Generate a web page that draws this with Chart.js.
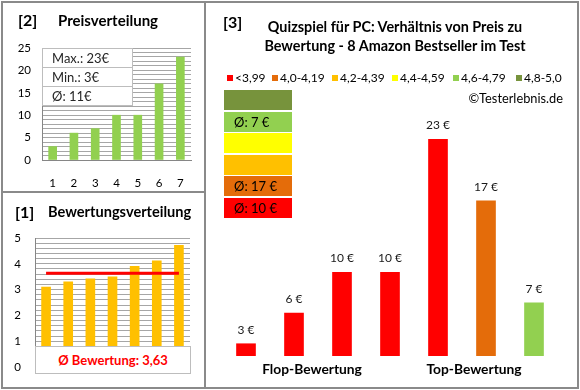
<!DOCTYPE html>
<html>
<head>
<meta charset="utf-8">
<script src="https://cdn.jsdelivr.net/npm/chart.js@4.4.1/dist/chart.umd.min.js"></script>
<style>
  body { margin: 0; background: #fff; font-family: Lato, "Open Sans", sans-serif; }
  #wrap { position: relative; width: 580px; height: 390px; overflow: hidden; background: #fff; }
  .ln { position: absolute; background: #8a8a8a; }
  canvas { position: absolute; }
  .t { position: absolute; white-space: nowrap; color: #000; height: 20px; line-height: 20px; }
  .b { font-weight: bold; }
  .sq { position: absolute; width: 6px; height: 6px; }
  .stats { position: absolute; left: 42px; top: 48px; width: 89px; height: 56px; background: #fff; border: 1px solid #bdbdbd; }
  .stats div { height: 18px; line-height: 18px; border-bottom: 1px solid #bdbdbd; padding-left: 9px; font-size: 13px; color: #262626; }
  .stats div:last-child { border-bottom: none; }
  .avg { position: absolute; left: 35px; top: 346px; width: 154px; height: 26px; background: #fff; border: 1px solid #bdbdbd;
         color: #ff0000; font-weight: bold; font-size: 13px; text-align: center; line-height: 27px; }
  .cls { position: absolute; left: 224px; width: 68px; height: 20px; line-height: 21px; font-size: 13px; color: #000; }
</style>
</head>
<body>
<div id="wrap">
  <canvas id="preis" width="204" height="191" style="left:0;top:0"></canvas>
  <canvas id="bew" width="204" height="196" style="left:0;top:192px"></canvas>
  <canvas id="main" width="374" height="388" style="left:204px;top:0"></canvas>

  <div class="ln" style="left:1px;top:1px;width:578px;height:2px"></div>
  <div class="ln" style="left:1px;top:387px;width:578px;height:2px"></div>
  <div class="ln" style="left:1px;top:1px;width:2px;height:388px"></div>
  <div class="ln" style="left:577px;top:1px;width:2px;height:388px"></div>
  <div class="ln" style="left:204px;top:1px;width:2px;height:388px"></div>
  <div class="ln" style="left:1px;top:191px;width:205px;height:2px"></div>

  <div class="t b" style="left:18px;top:10px;font-size:16px">[2]</div>
  <div class="t b" style="left:58px;top:10px;font-size:15px">Preisverteilung</div>
  <div class="stats"><div>Max.: 23€</div><div>Min.: 3€</div><div>Ø: 11€</div></div>

  <div class="t b" style="left:15px;top:202px;font-size:16px">[1]</div>
  <div class="t b" style="left:48px;top:202px;font-size:14.6px">Bewertungsverteilung</div>
  <div class="avg">Ø Bewertung: 3,63</div>

  <div class="t b" style="left:223px;top:12px;font-size:16px">[3]</div>
  <div class="t b" style="left:215px;top:17px;width:360px;text-align:center;font-size:14.4px;line-height:19px;height:40px">Quizspiel für PC: Verhältnis von Preis zu<br>Bewertung - 8 Amazon Bestseller im Test</div>
  <div id="legend"></div>
  <div class="t" style="left:400px;top:88px;width:163px;text-align:right;font-size:12.8px">©Testerlebnis.de</div>
  <div id="classes"></div>
  <div class="t b" style="left:232px;top:359px;width:160px;text-align:center;font-size:13.8px">Flop-Bewertung</div>
  <div class="t b" style="left:394px;top:359px;width:160px;text-align:center;font-size:13.8px">Top-Bewertung</div>
</div>
<script>
// Preisverteilung
const priceRanks = ['1', '2', '3', '4', '5', '6', '7'];
const priceValues = [3, 6, 7, 10, 10, 17, 23];

// Bewertungsverteilung
const ratingRanks = ['1', '2', '3', '4', '5', '6', '7'];
const ratingValues = [3.1, 3.3, 3.42, 3.5, 3.9, 4.12, 4.72];
const ratingAvg = 3.63;

// Verhaeltnis Preis / Bewertung
const classLabels = ['<3,99', '4,0-4,19', '4,2-4,39', '4,4-4,59', '4,6-4,79', '4,8-5,0'];
const classColors = ['#FF0000', '#E46C0A', '#FFC000', '#FFFF00', '#92D050', '#77933C'];
const classAvgPrice = [10, 17, null, null, 7, null];
const productPrices = [3, 6, 10, 10, 23, 17, 7];
const productClass = [0, 0, 0, 0, 0, 1, 4];

const tickFont = { family: 'Lato', size: 11.5 };
const gridGray = '#a6a6a6';
const axisGray = '#868686';

// legend + class boxes (html)
const legendX = [227, 272, 332, 392, 453, 516];
let lg = '';
classLabels.forEach((l, i) => {
    lg += `<div class="sq" style="left:${legendX[i]}px;top:75px;background:${classColors[i]}"></div>`;
    lg += `<div class="t" style="left:${legendX[i] + 8}px;top:68px;font-size:12px">${l}</div>`;
});
document.getElementById('legend').innerHTML = lg;

let cl = '';
for (let k = 0; k < classColors.length; k++) {
    const i = classColors.length - 1 - k;
    const txt = classAvgPrice[i] != null ? 'Ø: ' + classAvgPrice[i] + ' €' : '';
    cl += `<div class="cls" style="top:${90 + k * 21.6}px;background:${classColors[i]}"><span style="padding-left:10px">${txt}</span></div>`;
}
document.getElementById('classes').innerHTML = cl;

new Chart(document.getElementById('preis'), {
    type: 'bar',
    data: {
        labels: priceRanks,
        datasets: [{ data: priceValues, backgroundColor: '#92D050', barThickness: 8 }]
    },
    options: {
        responsive: false,
        animation: false,
        layout: { padding: { left: 0, right: 13, top: 48, bottom: 0 } },
        plugins: { legend: { display: false }, tooltip: { enabled: false } },
        scales: {
            x: {
                grid: { display: false, drawTicks: false },
                border: { color: axisGray },
                ticks: { font: tickFont, color: '#000', padding: 16 },
                afterFit: s => { s.height = 31; }
            },
            y: {
                min: 0, max: 25,
                grid: { color: gridGray, drawTicks: false },
                border: { color: axisGray },
                ticks: {
                    stepSize: 1, autoSkip: false, font: tickFont, color: '#000', padding: 11,
                    callback: v => (v % 5 === 0 ? v : '')
                },
                afterFit: s => { s.width = 42; }
            }
        }
    }
});

new Chart(document.getElementById('bew'), {
    type: 'bar',
    data: {
        labels: ratingRanks,
        datasets: [
            { type: 'line', data: ratingRanks.map(() => ratingAvg), borderColor: '#FF0000', borderWidth: 3, pointRadius: 0, order: 0 },
            { data: ratingValues, backgroundColor: '#FFC000', barThickness: 9, order: 1 }
        ]
    },
    options: {
        responsive: false,
        animation: false,
        layout: { padding: { left: 0, right: 14, top: 46, bottom: 0 } },
        plugins: { legend: { display: false }, tooltip: { enabled: false } },
        scales: {
            x: {
                grid: { display: false, drawTicks: false },
                border: { color: axisGray },
                ticks: { display: false },
                afterFit: s => { s.height = 14; }
            },
            y: {
                min: 0, max: 5,
                grid: { color: gridGray, drawTicks: false },
                border: { color: axisGray },
                ticks: {
                    stepSize: 0.2, autoSkip: false, font: tickFont, color: '#000', padding: 14,
                    callback: v => (Math.abs(v - Math.round(v)) < 1e-6 ? Math.round(v) : '')
                },
                afterFit: s => { s.width = 35; }
            }
        }
    }
});

const valueLabels = {
    id: 'valueLabels',
    afterDatasetsDraw(chart) {
        const ctx = chart.ctx;
        ctx.save();
        ctx.font = '12px Lato';
        ctx.fillStyle = '#1a1a1a';
        ctx.textAlign = 'center';
        ctx.textBaseline = 'middle';
        chart.getDatasetMeta(0).data.forEach((bar, i) => {
            ctx.fillText(productPrices[i] + ' €', bar.x, bar.y - 14);
        });
        ctx.restore();
    }
};

new Chart(document.getElementById('main'), {
    type: 'bar',
    data: {
        labels: productPrices.map((p, i) => 'P' + (i + 1)),
        datasets: [{
            data: productPrices,
            backgroundColor: productClass.map(c => classColors[c]),
            barThickness: 19
        }]
    },
    options: {
        responsive: false,
        animation: false,
        layout: { padding: { left: 18, right: 20, top: 119, bottom: 32 } },
        plugins: { legend: { display: false }, tooltip: { enabled: false } },
        scales: {
            x: { display: false },
            y: { display: false, min: 1.8, max: 25 }
        }
    },
    plugins: [valueLabels]
});
</script>
</body>
</html>
